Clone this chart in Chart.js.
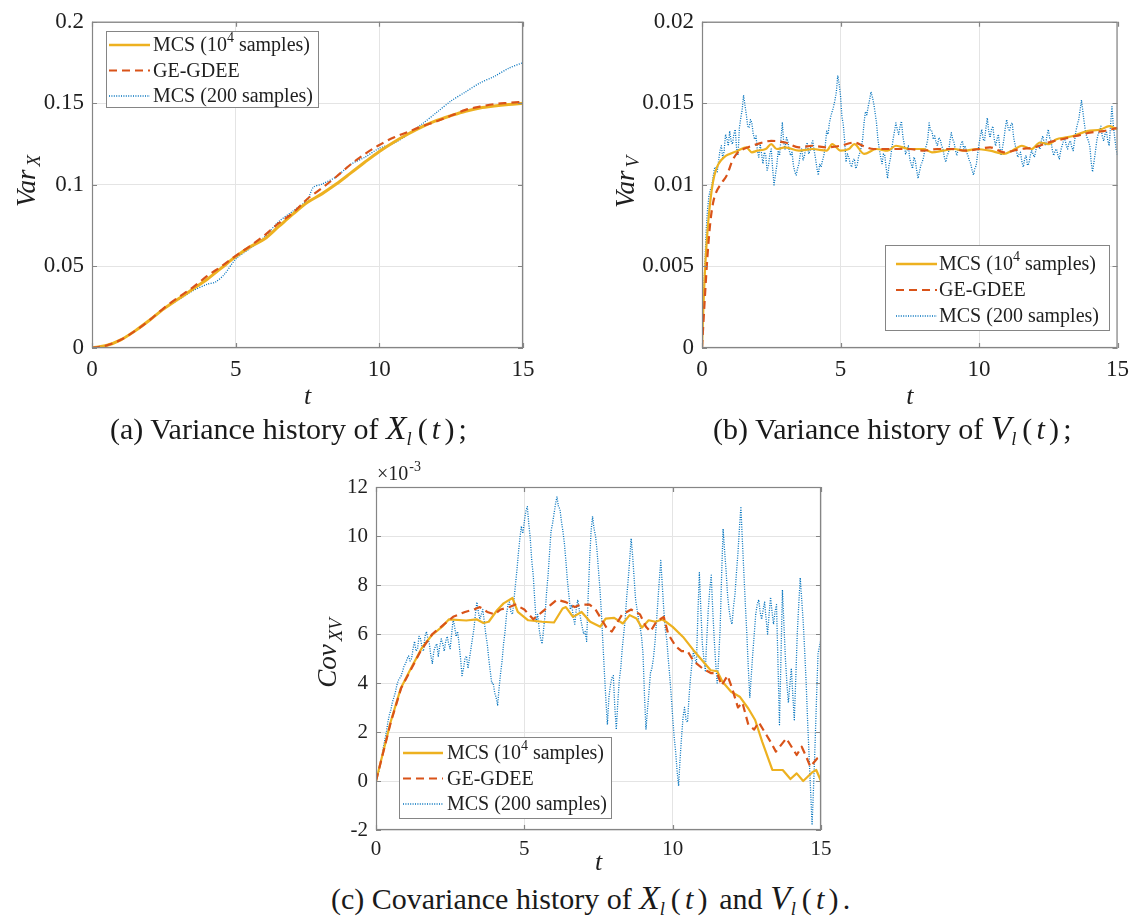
<!DOCTYPE html>
<html>
<head>
<meta charset="utf-8">
<title>Variance and covariance histories</title>
<script src="https://cdn.jsdelivr.net/npm/chart.js@4.4.0/dist/chart.umd.min.js"></script>
<style>
  html, body { margin: 0; padding: 0; background: #fff; }
  #page { position: relative; width: 1137px; height: 916px; overflow: hidden;
          font-family: "Liberation Serif", "Times New Roman", serif; color: #1a1a1a; }
  .panel { position: absolute; }
  .caption { position: absolute; font-size: 30px; white-space: nowrap; line-height: 1;
             transform: translateY(-50%); }
  .caption .mx { font-size: 1.12em; }
  .caption sub { font-size: 0.62em; vertical-align: -0.3em; margin-right: 0.32em; }
  .caption .ar { letter-spacing: 0.14em; }
</style>
</head>
<body>
<div id="page">
  <div class="panel" style="left:0px; top:0px;"><canvas id="chartVarX" width="560" height="420"></canvas></div>
  <div class="panel" style="left:580px; top:0px;"><canvas id="chartVarV" width="557" height="420"></canvas></div>
  <div class="panel" style="left:280px; top:440px;"><canvas id="chartCov" width="580" height="430"></canvas></div>

  <div class="caption" style="left:110px; top:430px;">(a) Variance history of <i class="mx">X</i><sub><i>l</i></sub><span class="ar">(<i>t</i>)</span>;</div>
  <div class="caption" style="left:713px; top:430px;">(b) Variance history of <i class="mx">V</i><sub><i>l</i></sub><span class="ar">(<i>t</i>)</span>;</div>
  <div class="caption" style="left:331px; top:900px;">(c) Covariance history of <i class="mx">X</i><sub><i>l</i></sub><span class="ar">(<i>t</i>)</span> and <i class="mx">V</i><sub><i>l</i></sub><span class="ar">(<i>t</i>)</span>.</div>
</div>

<script>
// ---------------------------------------------------------------
// Data
// ---------------------------------------------------------------
const DT = 0.05;                     // sampling step of the 200-sample runs
const X_TICKS = [0, 5, 10, 15];

// (a) variance of X
const tVarX       = [0, 0.5, 1, 1.5, 2, 2.5, 3, 3.5, 4, 4.5, 5, 5.5, 6, 6.5, 7, 7.5, 8, 8.5, 9, 9.5, 10, 10.5, 11, 11.5, 12, 12.5, 13, 13.5, 14, 14.5, 15];
const varXMcs     = [0, 0.0015, 0.005, 0.0105, 0.017, 0.024, 0.030, 0.036, 0.042, 0.049, 0.056, 0.062, 0.0668, 0.0745, 0.0822, 0.0893, 0.0945, 0.1005, 0.1072, 0.114, 0.1205, 0.1262, 0.1312, 0.1357, 0.1395, 0.1425, 0.1452, 0.1472, 0.1484, 0.1493, 0.150];
const varXGdee    = [0, 0.0015, 0.005, 0.0105, 0.017, 0.0245, 0.031, 0.037, 0.044, 0.050, 0.0565, 0.0625, 0.069, 0.0765, 0.083, 0.0915, 0.098, 0.105, 0.1125, 0.119, 0.1245, 0.129, 0.1325, 0.136, 0.139, 0.1425, 0.146, 0.148, 0.1495, 0.1503, 0.151];
const tVarX200    = [0, 0.5, 1, 1.5, 2, 2.5, 3, 3.5, 4, 4.3, 4.6, 5, 5.5, 6, 6.5, 7, 7.5, 7.7, 8, 8.5, 9, 9.5, 10, 10.5, 11, 11.5, 12, 12.5, 13, 13.5, 14, 14.5, 15];
const varXMcs200  = [0, 0.0012, 0.005, 0.0105, 0.017, 0.024, 0.0295, 0.035, 0.039, 0.0405, 0.045, 0.0545, 0.061, 0.068, 0.0775, 0.084, 0.091, 0.0985, 0.1005, 0.105, 0.1125, 0.117, 0.1225, 0.1255, 0.131, 0.1375, 0.1445, 0.1515, 0.157, 0.1625, 0.1665, 0.1715, 0.175];

// (b) variance of V
const tVarV       = [0, 0.05, 0.1, 0.15, 0.2, 0.3, 0.4, 0.5, 0.6, 0.8, 1.0, 1.3, 1.6, 1.8, 2.0, 2.3, 2.5, 2.7, 3.0, 3.5, 4.0, 4.5, 4.7, 5.0, 5.3, 5.5, 5.85, 6.3, 6.7, 7.0, 7.5, 8.0, 8.3, 8.7, 9.1, 9.5, 9.9, 10.4, 10.9, 11.2, 11.55, 11.9, 12.2, 12.5, 12.8, 13.1, 13.4, 13.9, 14.4, 14.7, 15.0];
const varVMcs     = [0, 0.0025, 0.0045, 0.006, 0.0072, 0.009, 0.0102, 0.0109, 0.0113, 0.0117, 0.0119, 0.0121, 0.0123, 0.012, 0.0121, 0.0122, 0.0125, 0.0122, 0.0123, 0.0121, 0.0122, 0.0121, 0.0125, 0.0121, 0.0122, 0.0125, 0.0119, 0.0122, 0.0121, 0.0124, 0.0122, 0.0122, 0.012, 0.0121, 0.0122, 0.0121, 0.0122, 0.0121, 0.0119, 0.0121, 0.0124, 0.0122, 0.0126, 0.0125, 0.0128, 0.0129, 0.013, 0.0133, 0.0134, 0.0136, 0.0134];
const tVarVGdee   = [0, 0.1, 0.2, 0.3, 0.4, 0.5, 0.7, 0.9, 1.1, 1.3, 1.5, 2.0, 2.5, 3.0, 3.5, 4.0, 4.5, 5.0, 5.5, 5.8, 6.2, 7.0, 7.5, 8.0, 8.5, 9.0, 9.5, 10.0, 10.4, 10.9, 11.5, 12.0, 12.5, 13.0, 13.5, 14.0, 14.5, 15.0];
const varVGdee    = [0, 0.003, 0.0057, 0.0077, 0.0089, 0.0095, 0.0101, 0.0106, 0.0115, 0.012, 0.0122, 0.0125, 0.0127, 0.0126, 0.0123, 0.0124, 0.0123, 0.0124, 0.0126, 0.0124, 0.0122, 0.0122, 0.0122, 0.0121, 0.0122, 0.0122, 0.0121, 0.0122, 0.0123, 0.012, 0.0122, 0.0123, 0.0126, 0.0128, 0.013, 0.0132, 0.0133, 0.0135];
// one row = 0.5 time units
const varVMcs200  = [
  0, .0030, .0050, .0072, .0085, .0093, .0097, .0099, .0105, .0110,
  .0111, .0108, .0115, .0121, .0124, .0116, .0121, .0131, .0128, .0124,
  .0133, .0127, .0125, .0131, .0134, .0122, .0118, .0135, .0141, .0146,
  .0155, .0149, .0143, .0136, .0135, .0140, .0138, .0131, .0128, .0130,
  .0121, .0117, .0125, .0119, .0113, .0120, .0118, .0109, .0112, .0119,
  .0122, .0110, .0100, .0106, .0112, .0121, .0118, .0128, .0138, .0126,
  .0122, .0129, .0127, .0121, .0118, .0120, .0112, .0108, .0106, .0110,
  .0113, .0119, .0122, .0115, .0118, .0123, .0126, .0119, .0121, .0125,
  .0127, .0121, .0116, .0110, .0106, .0113, .0111, .0115, .0118, .0124,
  .0133, .0131, .0138, .0142, .0145, .0148, .0152, .0157, .0167, .0162,
  .0155, .0142, .0137, .0127, .0114, .0119, .0117, .0113, .0111, .0115,
  .0116, .0110, .0112, .0117, .0120, .0123, .0128, .0138, .0145, .0143,
  .0148, .0152, .0157, .0154, .0150, .0144, .0138, .0128, .0122, .0117,
  .0113, .0119, .0118, .0110, .0104, .0112, .0116, .0122, .0128, .0133,
  .0138, .0134, .0131, .0136, .0139, .0130, .0125, .0119, .0121, .0124,
  .0116, .0113, .0110, .0117, .0115, .0109, .0104, .0108, .0112, .0114,
  .0117, .0122, .0124, .0128, .0138, .0133, .0133, .0128, .0130, .0126,
  .0124, .0129, .0128, .0124, .0122, .0117, .0114, .0118, .0120, .0127,
  .0132, .0128, .0126, .0121, .0118, .0122, .0121, .0125, .0127, .0122,
  .0124, .0120, .0118, .0115, .0113, .0109, .0106, .0110, .0112, .0119,
  .0125, .0130, .0134, .0128, .0127, .0135, .0141, .0133, .0129, .0134,
  .0136, .0128, .0124, .0128, .0131, .0123, .0118, .0123, .0128, .0135,
  .0140, .0135, .0133, .0137, .0138, .0129, .0125, .0121, .0117, .0119,
  .0120, .0114, .0111, .0116, .0118, .0112, .0113, .0118, .0121, .0119,
  .0117, .0121, .0125, .0124, .0122, .0127, .0130, .0126, .0124, .0130,
  .0134, .0129, .0127, .0121, .0118, .0121, .0122, .0118, .0116, .0121,
  .0124, .0127, .0129, .0124, .0122, .0126, .0127, .0123, .0121, .0127,
  .0133, .0137, .0140, .0146, .0152, .0145, .0138, .0132, .0129, .0127,
  .0124, .0114, .0108, .0114, .0120, .0127, .0131, .0133, .0136, .0130,
  .0127, .0131, .0133, .0127, .0124, .0137, .0148, .0136, .0129, .0122,
  .0118
];

// (c) covariance of X and V, in units of 1e-3
const tCovMcs     = [0, 0.49, 0.84, 1.18, 1.53, 1.88, 2.23, 2.46, 3.04, 3.39, 3.62, 3.8, 4.08, 4.3, 4.6, 4.78, 5.13, 5.6, 6.0, 6.29, 6.4, 6.64, 6.93, 7.22, 7.56, 7.74, 8.03, 8.32, 8.55, 8.78, 8.96, 9.19, 9.42, 9.65, 9.77, 10.0, 10.35, 10.7, 11.04, 11.28, 11.5, 11.68, 11.97, 12.26, 12.55, 12.78, 13.02, 13.36, 13.71, 13.97, 14.18, 14.4, 14.7, 14.84, 15.0];
const covMcs      = [0, 2.4, 3.8, 4.6, 5.4, 5.95, 6.3, 6.6, 6.55, 6.6, 6.45, 6.5, 6.97, 7.25, 7.47, 6.9, 6.56, 6.5, 6.47, 7.04, 7.1, 6.7, 6.9, 6.5, 6.3, 6.63, 6.66, 6.43, 6.77, 6.63, 6.26, 6.56, 6.5, 6.59, 6.5, 6.29, 5.88, 5.34, 4.86, 4.52, 4.48, 4.05, 3.64, 3.44, 2.96, 2.49, 1.6, 0.45, 0.45, 0.08, 0.31, 0.0, 0.35, 0.45, 0.0];
const tCovGdee    = [0, 0.5, 0.85, 1.2, 1.5, 1.9, 2.3, 2.6, 3.0, 3.3, 3.5, 3.75, 4.0, 4.2, 4.5, 4.7, 5.0, 5.3, 5.6, 5.9, 6.1, 6.4, 6.7, 6.9, 7.2, 7.4, 7.6, 7.8, 7.95, 8.1, 8.3, 8.6, 8.9, 9.1, 9.25, 9.45, 9.7, 9.85, 10.1, 10.3, 10.5, 10.7, 11.0, 11.3, 11.5, 11.65, 11.85, 12.0, 12.2, 12.35, 12.55, 12.75, 12.9, 13.1, 13.3, 13.48, 13.83, 14.18, 14.35, 14.5, 14.64, 14.87, 15.0];
const covGdee     = [0, 2.4, 3.8, 4.6, 5.3, 6.0, 6.4, 6.7, 6.9, 7.0, 7.1, 6.9, 6.8, 7.0, 7.1, 7.2, 7.0, 6.6, 6.9, 7.2, 7.4, 7.3, 7.1, 7.2, 7.2, 7.0, 6.6, 6.2, 6.1, 6.4, 6.8, 7.0, 6.8, 6.3, 6.1, 6.5, 6.7, 6.0, 5.5, 5.3, 5.3, 4.9, 4.6, 4.4, 4.4, 3.9, 4.3, 3.8, 3.0, 3.2, 2.3, 2.1, 2.4, 2.0, 1.6, 1.2, 1.74, 1.06, 1.4, 1.0, 0.58, 0.92, 1.0];
// one row = 0.5 time units
const covMcs200   = [
  0, 0.2, 0.4, 0.7, 1.0, 1.4, 1.7, 2.0, 2.4, 2.7,
  2.9, 3.2, 3.4, 3.6, 3.9, 4.1, 4.2, 4.3, 4.5, 4.7,
  4.8, 5.0, 5.1, 4.9, 5.0, 5.4, 5.7, 5.3, 5.4, 5.9,
  5.8, 5.5, 5.3, 5.9, 6.1, 5.8, 5.6, 5.1, 4.8, 5.3,
  5.5, 5.6, 5.1, 5.5, 5.8, 5.6, 5.3, 5.7, 5.9, 5.6,
  5.4, 6.0, 6.6, 6.3, 5.9, 6.1, 5.6, 5.0, 4.3, 4.6,
  5.0, 5.1, 4.6, 5.0, 5.4, 5.8, 6.2, 6.8, 7.3, 6.9,
  6.6, 6.8, 7.0, 6.5, 6.0, 5.6, 5.0, 4.5, 4.0, 4.0,
  3.6, 3.4, 3.1, 3.8, 4.4, 4.9, 5.6, 6.1, 6.8, 7.2,
  7.3, 6.9, 6.8, 7.4, 8.0, 8.6, 9.3, 9.9, 10.4, 10.1,
  10.6, 11.0, 11.2, 10.5, 9.9, 9.0, 8.4, 7.4, 6.5, 6.8,
  6.2, 5.8, 5.6, 6.2, 6.8, 7.7, 8.4, 9.3, 10.2, 10.5,
  10.9, 11.3, 11.6, 11.2, 11.1, 10.6, 10.2, 9.7, 9.0, 8.2,
  7.6, 7.0, 7.2, 6.7, 6.4, 7.0, 7.4, 7.0, 6.6, 6.3,
  6.0, 6.1, 5.7, 7.5, 9.0, 10.2, 10.8, 10.3, 10.0, 9.4,
  8.6, 7.8, 6.8, 5.6, 4.4, 3.3, 2.3, 3.4, 3.9, 4.2,
  4.3, 3.0, 2.1, 3.2, 4.1, 4.6, 5.4, 6.0, 6.6, 7.5,
  8.2, 9.0, 9.9, 9.2, 8.3, 7.4, 7.0, 6.6, 6.3, 5.9,
  5.2, 3.5, 2.1, 2.9, 3.6, 4.4, 4.6, 5.0, 5.6, 6.4,
  7.3, 8.2, 9.0, 8.0, 7.0, 6.2, 5.8, 5.0, 4.3, 3.5,
  2.6, 1.8, 1.2, 0.4, -0.2, 0.9, 1.8, 2.6, 3.0, 2.5,
  2.4, 3.4, 4.2, 4.8, 5.3, 5.0, 4.8, 6.8, 8.5, 7.0,
  5.6, 5.0, 4.5, 5.8, 7.0, 7.8, 8.4, 7.0, 5.8, 4.8,
  4.0, 5.0, 6.2, 8.4, 10.3, 9.4, 8.6, 7.6, 7.0, 6.6,
  6.4, 7.1, 7.6, 8.5, 9.3, 10.3, 11.2, 9.8, 8.5, 7.2,
  6.0, 4.6, 3.4, 4.3, 5.2, 6.0, 6.8, 7.2, 7.4, 6.9,
  6.6, 7.0, 7.3, 6.6, 6.0, 6.8, 7.5, 6.9, 6.4, 6.9,
  7.2, 4.8, 2.3, 5.0, 7.8, 6.4, 5.0, 4.0, 3.2, 3.9,
  4.6, 3.5, 2.5, 4.2, 6.0, 7.2, 8.3, 7.4, 6.5, 5.3,
  4.0, 2.4, 1.0, -0.4, -1.8, -0.2, 1.5, 3.4, 5.2, 5.5,
  5.8
];

// ---------------------------------------------------------------
// Styling
// ---------------------------------------------------------------
const FONT = '"Liberation Serif", "Times New Roman", serif';
const TEXT_COLOR = '#1f1f1f';
const FRAME_COLOR = '#858585';
const GRID_COLOR = '#e4e4e4';
const COLORS = { mcs: '#EDB120', gdee: '#D95319', mcs200: '#0072BD' };

const LEGEND_ITEMS = [
  { parts: [['MCS (10', 0], ['4', 1], [' samples)', 0]], color: COLORS.mcs,    dash: [],       width: 2.6 },
  { parts: [['GE-GDEE', 0]],                            color: COLORS.gdee,   dash: [8, 5],   width: 2.2 },
  { parts: [['MCS (200 samples)', 0]],                  color: COLORS.mcs200, dash: [1, 1.4], width: 1.4 }
];

const toPoints = (ts, ys) => ts.map((t, i) => ({ x: t, y: ys[i] }));
const onGrid = ys => ys.map((y, i) => ({ x: +(i * DT).toFixed(2), y }));

// ---------------------------------------------------------------
// Plugin: MATLAB-like box, inward ticks, axis titles, inset legend
// ---------------------------------------------------------------
function drawRotatedTitle(ctx, t) {
  ctx.save();
  ctx.translate(t.x, t.y);
  ctx.rotate(-Math.PI / 2);
  ctx.fillStyle = TEXT_COLOR;
  ctx.textBaseline = 'alphabetic';
  ctx.font = `italic ${t.size}px ${FONT}`;
  const mw = ctx.measureText(t.main).width;
  ctx.font = `italic ${t.subSize}px ${FONT}`;
  const sw = ctx.measureText(t.sub).width;
  const x0 = -(mw + t.gap + sw) / 2;
  ctx.font = `italic ${t.size}px ${FONT}`;
  ctx.fillText(t.main, x0, 0);
  ctx.font = `italic ${t.subSize}px ${FONT}`;
  ctx.fillText(t.sub, x0 + mw + t.gap, t.drop);
  ctx.restore();
}

function drawLegend(ctx, lg) {
  ctx.save();
  ctx.fillStyle = '#fff';
  ctx.fillRect(lg.x, lg.y, lg.w, lg.h);
  ctx.strokeStyle = FRAME_COLOR;
  ctx.lineWidth = 1;
  ctx.setLineDash([]);
  ctx.strokeRect(lg.x + 0.5, lg.y + 0.5, lg.w, lg.h);
  ctx.textBaseline = 'middle';
  LEGEND_ITEMS.forEach((it, i) => {
    const y = lg.y + lg.rowTop + i * lg.rowGap;
    ctx.strokeStyle = it.color;
    ctx.lineWidth = it.width;
    ctx.setLineDash(it.dash);
    ctx.beginPath();
    ctx.moveTo(lg.x + lg.lineX0, y);
    ctx.lineTo(lg.x + lg.lineX1, y);
    ctx.stroke();
    ctx.setLineDash([]);
    let x = lg.x + lg.textX;
    ctx.fillStyle = TEXT_COLOR;
    it.parts.forEach(([txt, sup]) => {
      ctx.font = `${sup ? 14 : 20}px ${FONT}`;
      ctx.fillText(txt, x, sup ? y - 7 : y + 1);
      x += ctx.measureText(txt).width;
    });
  });
  ctx.restore();
}

const matlabAxes = {
  id: 'matlabAxes',
  afterDatasetsDraw(chart, args, opts) {
    const { ctx, chartArea: a } = chart;
    const xs = chart.scales.x, ys = chart.scales.y;
    ctx.save();
    ctx.strokeStyle = FRAME_COLOR;
    ctx.lineWidth = 1.2;
    ctx.setLineDash([]);
    ctx.beginPath();
    xs.ticks.forEach(tk => {
      const px = Math.round(xs.getPixelForValue(tk.value)) + 0.5;
      ctx.moveTo(px, a.bottom); ctx.lineTo(px, a.bottom - 5);
      ctx.moveTo(px, a.top);    ctx.lineTo(px, a.top + 5);
    });
    ys.ticks.forEach(tk => {
      const py = Math.round(ys.getPixelForValue(tk.value)) + 0.5;
      ctx.moveTo(a.left, py);  ctx.lineTo(a.left + 5, py);
      ctx.moveTo(a.right, py); ctx.lineTo(a.right - 5, py);
    });
    ctx.stroke();
    ctx.strokeRect(a.left + 0.5, a.top + 0.5, a.right - a.left - 1, a.bottom - a.top - 1);

    // axis titles
    drawRotatedTitle(ctx, opts.yTitle);
    ctx.fillStyle = TEXT_COLOR;
    ctx.font = `italic 26px ${FONT}`;
    ctx.textAlign = 'center';
    ctx.textBaseline = 'middle';
    ctx.fillText('t', (a.left + a.right) / 2, opts.xTitleY);
    ctx.textAlign = 'left';

    // common exponent above the y axis
    if (opts.exponent) {
      const e = opts.exponent;
      ctx.textBaseline = 'alphabetic';
      ctx.font = `20px ${FONT}`;
      ctx.fillText('\u00d710', e.x, e.y);
      const w = ctx.measureText('\u00d710').width;
      ctx.font = `14px ${FONT}`;
      ctx.fillText(e.power, e.x + w + 1, e.y - 9);
    }
    ctx.restore();
    drawLegend(ctx, opts.legend);
  }
};

// ---------------------------------------------------------------
// Chart factory
// ---------------------------------------------------------------
function makeChart(id, cfg) {
  const tickFont = { family: FONT, size: cfg.tickSize };
  return new Chart(document.getElementById(id), {
    type: 'line',
    data: {
      datasets: [
        { label: 'MCS (10^4 samples)', data: cfg.mcs, borderColor: COLORS.mcs, borderWidth: cfg.mcsWidth,
          tension: cfg.tension, cubicInterpolationMode: cfg.cubic, order: 2 },
        { label: 'GE-GDEE', data: cfg.gdee, borderColor: COLORS.gdee, borderWidth: 2.2, borderDash: [8, 5],
          tension: cfg.tension, cubicInterpolationMode: cfg.cubic, order: 1 },
        { label: 'MCS (200 samples)', data: cfg.mcs200, borderColor: COLORS.mcs200, borderWidth: 1.3,
          borderDash: [1, 1.4], tension: cfg.tension200, order: 3 }
      ].map(d => Object.assign(d, { pointRadius: 0, fill: false, borderJoinStyle: 'round' }))
    },
    options: {
      responsive: false,
      animation: false,
      devicePixelRatio: 1,
      layout: { padding: { top: cfg.padTop, right: cfg.padRight, left: 0, bottom: 0 } },
      plugins: {
        legend: { display: false },
        tooltip: { enabled: false },
        matlabAxes: cfg.decor
      },
      scales: {
        x: {
          type: 'linear', min: 0, max: 15,
          afterBuildTicks: s => { s.ticks = X_TICKS.map(v => ({ value: v })); },
          ticks: { font: tickFont, color: TEXT_COLOR, padding: cfg.xPad, maxRotation: 0, autoSkip: false },
          grid: { color: GRID_COLOR, drawTicks: false },
          border: { display: false },
          afterFit: s => { s.height = cfg.xHeight; }
        },
        y: {
          min: cfg.yMin, max: cfg.yMax,
          afterBuildTicks: s => { s.ticks = cfg.yTicks.map(v => ({ value: v })); },
          ticks: { font: tickFont, color: TEXT_COLOR, padding: 8, autoSkip: false,
                   callback: v => String(+(+v).toFixed(4)) },
          grid: { color: GRID_COLOR, drawTicks: false },
          border: { display: false },
          afterFit: s => { s.width = cfg.yWidth; }
        }
      }
    },
    plugins: [matlabAxes]
  });
}

// (a)
makeChart('chartVarX', {
  mcs: toPoints(tVarX, varXMcs), gdee: toPoints(tVarX, varXGdee), mcs200: toPoints(tVarX200, varXMcs200),
  mcsWidth: 3, tension: 0.4, cubic: 'monotone', tension200: 0.3,
  yMin: 0, yMax: 0.2, yTicks: [0, 0.05, 0.1, 0.15, 0.2], tickSize: 23,
  padTop: 17, padRight: 37, yWidth: 92, xHeight: 72, xPad: 8,
  decor: {
    yTitle: { x: 35, y: 181, main: 'Var', sub: 'X', size: 27, subSize: 19, gap: 3, drop: 5 },
    xTitleY: 397,
    legend: { x: 106, y: 31, w: 212, h: 76, rowTop: 14, rowGap: 25.5, lineX0: 3, lineX1: 44, textX: 47 }
  }
});

// (b)
makeChart('chartVarV', {
  mcs: toPoints(tVarV, varVMcs), gdee: toPoints(tVarVGdee, varVGdee), mcs200: onGrid(varVMcs200),
  mcsWidth: 2.2, tension: 0.3, cubic: 'monotone', tension200: 0,
  yMin: 0, yMax: 0.02, yTicks: [0, 0.005, 0.01, 0.015, 0.02], tickSize: 23,
  padTop: 17, padRight: 15, yWidth: 122, xHeight: 72, xPad: 8,
  decor: {
    yTitle: { x: 54, y: 182, main: 'Var', sub: 'V', size: 27, subSize: 19, gap: 3, drop: 5 },
    xTitleY: 397,
    legend: { x: 305, y: 245, w: 224, h: 85, rowTop: 19, rowGap: 26, lineX0: 11, lineX1: 52, textX: 54 }
  }
});

// (c)
makeChart('chartCov', {
  mcs: toPoints(tCovMcs, covMcs), gdee: toPoints(tCovGdee, covGdee), mcs200: onGrid(covMcs200),
  mcsWidth: 2.2, tension: 0, cubic: 'default', tension200: 0,
  yMin: -2, yMax: 12, yTicks: [-2, 0, 2, 4, 6, 8, 10, 12], tickSize: 21,
  padTop: 47, padRight: 39, yWidth: 96, xHeight: 40, xPad: 7,
  decor: {
    yTitle: { x: 56, y: 213, main: 'Cov', sub: 'XV', size: 27, subSize: 19, gap: 3, drop: 6 },
    xTitleY: 423,
    exponent: { x: 97, y: 40, power: '-3' },
    legend: { x: 119, y: 297, w: 212, h: 81, rowTop: 16, rowGap: 25.5, lineX0: 4, lineX1: 44, textX: 48 }
  }
});
</script>
</body>
</html>
